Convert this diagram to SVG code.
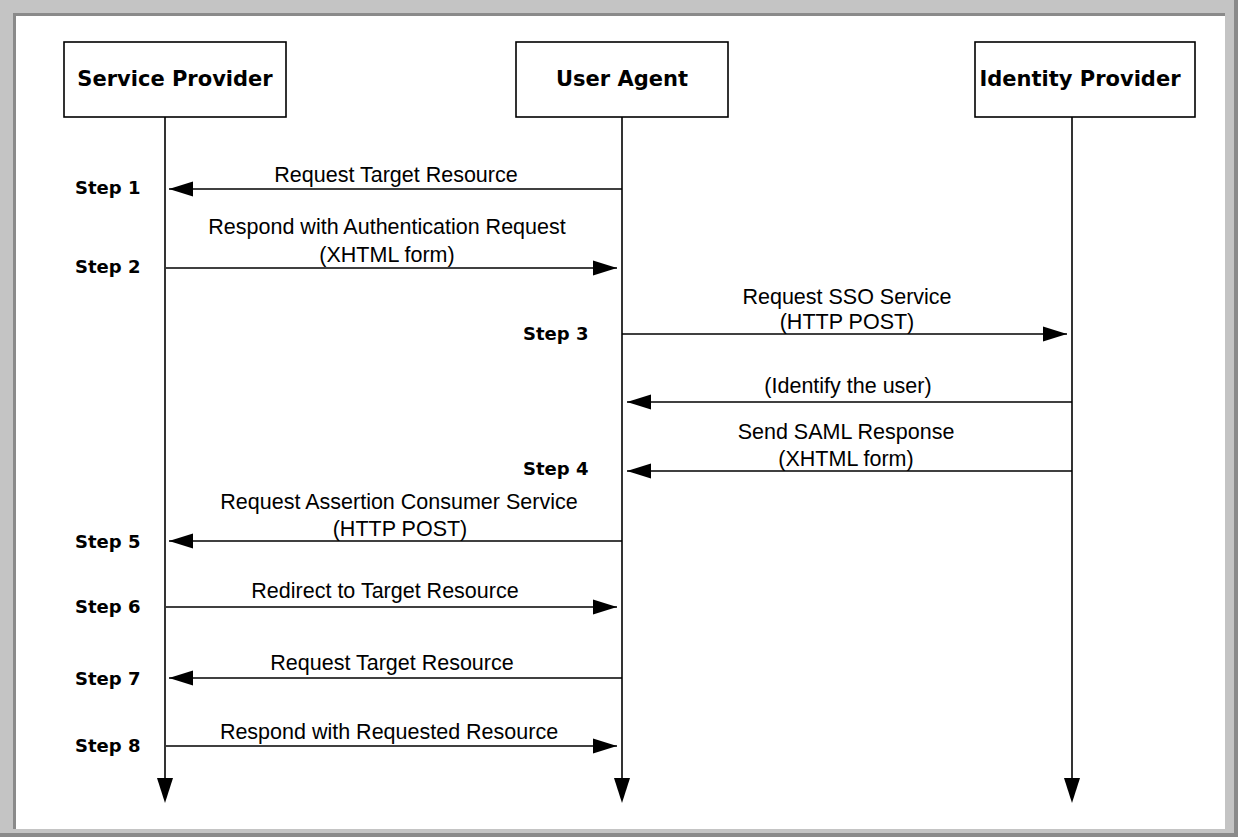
<svg xmlns="http://www.w3.org/2000/svg" width="1238" height="837" viewBox="0 0 1238 837">
<style>
.box{fill:#fff;stroke:#000;stroke-width:1.6}
.hdr{font-family:"DejaVu Sans",sans-serif;font-weight:bold;font-size:21px;text-anchor:middle;fill:#000}
.step{font-family:"DejaVu Sans",sans-serif;font-weight:bold;font-size:18px;fill:#000}
.lbl{font-family:"Liberation Sans",Arial,sans-serif;font-size:21.5px;text-anchor:middle;fill:#000}
.life{stroke:#000;stroke-width:1.6;fill:none}
.msg{stroke:#000;stroke-width:1.6;fill:none;marker-end:url(#ah)}
.head{fill:#000}
</style>
<defs>
<marker id="ah" markerUnits="userSpaceOnUse" markerWidth="26" markerHeight="18" refX="24" refY="9" orient="auto">
<path d="M0,1.5 L24,9 L0,16.5 z" fill="#000"/>
</marker>
</defs>
<g id="frame">
<rect x="0" y="0" width="1238" height="837" fill="#c4c4c4"/>
<rect x="1234" y="0" width="4" height="837" fill="#8a8a8a"/>
<rect x="0" y="833" width="1238" height="4" fill="#8a8a8a"/>
<rect x="13" y="13" width="1212" height="816" fill="#8a8a8a"/>
<rect x="16" y="16" width="1209" height="813" fill="#fff"/>
</g>
<g id="service-provider">
<rect class="box" x="64" y="42" width="222" height="75"/>
<text class="hdr" x="175" y="86">Service Provider</text>
</g>
<g id="user-agent">
<rect class="box" x="516" y="42" width="212" height="75"/>
<text class="hdr" x="622" y="86">User Agent</text>
</g>
<g id="identity-provider">
<rect class="box" x="975" y="42" width="220" height="75"/>
<text class="hdr" x="1080" y="86">Identity Provider</text>
</g>
<g id="steps">
<text class="step" x="75" y="194">Step 1</text>
<text class="step" x="75" y="273">Step 2</text>
<text class="step" x="523" y="340">Step 3</text>
<text class="step" x="523" y="475">Step 4</text>
<text class="step" x="75" y="548">Step 5</text>
<text class="step" x="75" y="613">Step 6</text>
<text class="step" x="75" y="685">Step 7</text>
<text class="step" x="75" y="752">Step 8</text>
</g>
<g id="connectors">
<line class="life" x1="165" y1="117" x2="165" y2="790"/>
<line class="life" x1="622" y1="117" x2="622" y2="790"/>
<line class="life" x1="1072" y1="117" x2="1072" y2="790"/>
<polygon class="head" points="157,778 173,778 165,803"/>
<polygon class="head" points="614,778 630,778 622,803"/>
<polygon class="head" points="1064,778 1080,778 1072,803"/>
<line class="msg" x1="622" y1="189" x2="169" y2="189"/>
<line class="msg" x1="166" y1="268" x2="617" y2="268"/>
<line class="msg" x1="622" y1="334" x2="1067" y2="334"/>
<line class="msg" x1="1072" y1="402" x2="627" y2="402"/>
<line class="msg" x1="1072" y1="471" x2="627" y2="471"/>
<line class="msg" x1="622" y1="541" x2="169" y2="541"/>
<line class="msg" x1="166" y1="607" x2="617" y2="607"/>
<line class="msg" x1="622" y1="678" x2="169" y2="678"/>
<line class="msg" x1="166" y1="746" x2="617" y2="746"/>
</g>
<g id="labels">
<text class="lbl" x="396" y="182">Request Target Resource</text>
<text class="lbl" x="387" y="234">Respond with Authentication Request</text>
<text class="lbl" x="387" y="262">(XHTML form)</text>
<text class="lbl" x="847" y="304">Request SSO Service</text>
<text class="lbl" x="847" y="329">(HTTP  POST)</text>
<text class="lbl" x="848" y="393">(Identify the user)</text>
<text class="lbl" x="846" y="439">Send SAML Response</text>
<text class="lbl" x="846" y="466">(XHTML form)</text>
<text class="lbl" x="399" y="509">Request Assertion Consumer Service</text>
<text class="lbl" x="400" y="536">(HTTP  POST)</text>
<text class="lbl" x="385" y="598">Redirect to Target Resource</text>
<text class="lbl" x="392" y="670">Request Target Resource</text>
<text class="lbl" x="389" y="739">Respond with Requested Resource</text>
</g>
</svg>
